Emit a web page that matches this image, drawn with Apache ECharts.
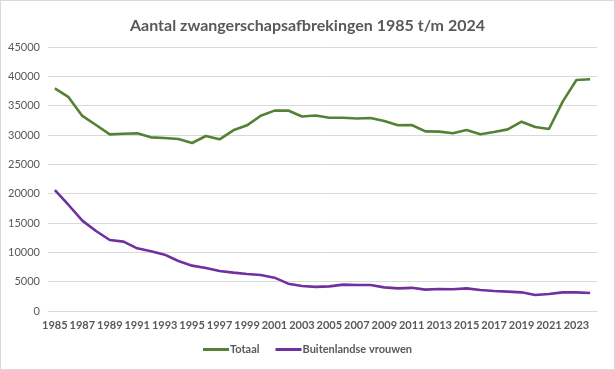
<!DOCTYPE html>
<html><head><meta charset="utf-8">
<script src="https://cdn.jsdelivr.net/npm/echarts@6/dist/echarts.min.js"></script>
<style>html,body{margin:0;padding:0;background:#fff}#c{width:615px;height:370px;box-sizing:border-box;border:1px solid #d9d9d9}</style>
</head><body><div id="c"></div>
<script>
const years = [];
for (let y = 1985; y <= 2024; y++) years.push(String(y));
const totaal = [37950, 36450, 33250, 31700, 30100, 30220, 30280, 29600, 29490, 29320,
  28640, 29830, 29260, 30800, 31650, 33290, 34150, 34170, 33150, 33320,
  32950, 32950, 32800, 32900, 32400, 31650, 31700, 30620, 30570, 30300,
  30850, 30120, 30510, 30960, 32270, 31360, 31020, 35680, 39370, 39490];
const buitenlands = [20620, 18070, 15400, 13640, 12100, 11820, 10680, 10170, 9600, 8520,
  7730, 7330, 6820, 6540, 6310, 6140, 5680, 4660, 4260, 4120,
  4200, 4490, 4430, 4430, 4030, 3860, 3950, 3640, 3750, 3700,
  3860, 3580, 3410, 3300, 3180, 2730, 2900, 3180, 3180, 3070];
const font = 'Lato, "Open Sans", sans-serif';
const chart = echarts.init(document.getElementById('c'));
chart.setOption({
  animation: false,
  title: { text: 'Aantal zwangerschapsafbrekingen 1985 t/m 2024', left: 'center', top: 12,
    textStyle: { fontFamily: font, fontSize: 16, fontWeight: 'bold', color: '#595959' } },
  grid: { left: 47, right: 17, top: 46, bottom: 58 },
  legend: { bottom: 9, left: 'center', itemWidth: 26, itemHeight: 3, itemGap: 16,
    icon: 'rect',
    textStyle: { fontFamily: font, fontSize: 11, fontWeight: 'bold', color: '#595959', padding: [0,0,0,-4] },
    data: ['Totaal', 'Buitenlandse vrouwen'] },
  xAxis: { type: 'category', data: years, boundaryGap: true,
    axisLine: { show: true, lineStyle: { color: '#d9d9d9' } }, axisTick: { show: false },
    axisLabel: { interval: 1, fontFamily: font, fontSize: 11, fontWeight: 'bold', color: '#595959', margin: 9 } },
  yAxis: { type: 'value', min: 0, max: 45000, interval: 5000,
    axisLine: { show: false }, axisTick: { show: false },
    splitLine: { lineStyle: { color: '#d9d9d9' } },
    axisLabel: { fontFamily: font, fontSize: 11, color: '#595959', margin: 8, formatter: v => String(v) } },
  series: [
    { name: 'Totaal', type: 'line', data: totaal, showSymbol: false, symbol: 'none',
      lineStyle: { width: 2.6, color: '#548235' }, itemStyle: { color: '#548235' } },
    { name: 'Buitenlandse vrouwen', type: 'line', data: buitenlands, showSymbol: false, symbol: 'none',
      lineStyle: { width: 2.6, color: '#7030a0' }, itemStyle: { color: '#7030a0' } }
  ]
});
</script></body></html>
